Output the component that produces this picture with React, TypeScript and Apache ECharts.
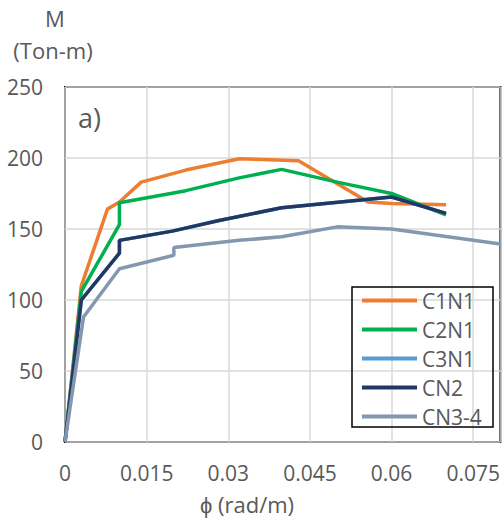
import React, { useEffect, useRef } from "react";
import * as echarts from "echarts";

// Moment–curvature curves
const C1N1: [number, number][] = [
  [0, 0], [0.003, 110], [0.0078, 164], [0.01, 169], [0.014, 183], [0.0222, 191.5],
  [0.032, 199.5], [0.0429, 198], [0.0557, 169], [0.06, 168], [0.07, 167],
];
const C2N1: [number, number][] = [
  [0, 0], [0.003, 106], [0.01, 153], [0.01, 168.5], [0.0222, 177], [0.032, 186],
  [0.0398, 192], [0.05, 183], [0.06, 175], [0.07, 160],
];
const C3N1: [number, number][] = [
  [0, 0], [0.003, 100], [0.01, 133], [0.01, 142], [0.0197, 148.5], [0.0283, 156],
  [0.0398, 165], [0.06, 172.5], [0.07, 161],
];
const CN2: [number, number][] = [
  [0, 0], [0.003, 100], [0.01, 133], [0.01, 142], [0.0197, 148.5], [0.0283, 156],
  [0.0398, 165], [0.06, 172.5], [0.07, 161],
];
const CN3_4: [number, number][] = [
  [0, 0], [0.0034, 88], [0.01, 122], [0.02, 131.5], [0.02, 137], [0.032, 142],
  [0.0398, 144.5], [0.05, 151.5], [0.06, 150], [0.08, 139.5],
];

const seriesNames = ["C1N1", "C2N1", "C3N1", "CN2", "CN3-4"];
const seriesData = [C1N1, C2N1, C3N1, CN2, CN3_4];
const seriesColors = ["#ED7D31", "#00B050", "#5B9BD5", "#203864", "#8497B0"];

const FONT = "'Open Sans', sans-serif";
const TEXT = "#595959";

export default function App() {
  const ref = useRef<HTMLDivElement>(null);

  useEffect(() => {
    if (!ref.current) return;
    const chart = echarts.init(ref.current, undefined, { renderer: "svg" });
    chart.setOption({
      animation: false,
      backgroundColor: "#fff",
      textStyle: { fontFamily: FONT },
      grid: {
        left: 65,
        top: 87,
        right: 2,
        bottom: 79,
        show: true,
        borderColor: "#000",
        borderWidth: 2,
      },
      xAxis: {
        type: "value",
        min: 0,
        max: 0.08,
        interval: 0.015,
        axisLine: { show: false },
        axisTick: { show: false },
        splitLine: { lineStyle: { color: "#D9D9D9", width: 1.5 } },
        axisLabel: {
          showMaxLabel: false,
          margin: 20,
          color: TEXT,
          fontSize: 21,
          fontFamily: FONT,
          formatter: (v: number) => String(Number(v.toFixed(3))),
        },
      },
      yAxis: {
        type: "value",
        min: 0,
        max: 250,
        interval: 50,
        axisLine: { show: false },
        axisTick: { show: false },
        splitLine: { lineStyle: { color: "#D9D9D9", width: 1.5 } },
        axisLabel: { margin: 22, color: TEXT, fontSize: 21, fontFamily: FONT },
      },
      legend: {
        orient: "vertical",
        left: 352,
        top: 290,
        padding: [0, 10, 0, 10],
        icon: "rect",
        itemWidth: 55,
        itemHeight: 4,
        itemGap: 8,
        textStyle: { color: TEXT, fontSize: 21, lineHeight: 20, fontFamily: FONT },
        data: seriesNames,
      },
      graphic: [
        {
          type: "rect",
          shape: { x: 352, y: 287, width: 141, height: 140 },
          style: { fill: "none", stroke: "#000", lineWidth: 1.5 },
          silent: true,
          z: 10,
        },
        {
          type: "text",
          x: 55,
          y: 18,
          style: { text: "M", fill: TEXT, fontSize: 22, fontFamily: FONT, align: "center", verticalAlign: "middle" },
        },
        {
          type: "text",
          x: 53,
          y: 50,
          style: { text: "(Ton-m)", fill: TEXT, fontSize: 22, fontFamily: FONT, align: "center", verticalAlign: "middle" },
        },
        {
          type: "text",
          x: 247,
          y: 504,
          style: { text: "ϕ (rad/m)", fill: TEXT, fontSize: 22, fontFamily: FONT, align: "center", verticalAlign: "middle" },
        },
        {
          type: "text",
          x: 78,
          y: 117,
          style: { text: "a)", fill: TEXT, fontSize: 27, fontFamily: FONT, align: "left", verticalAlign: "middle" },
        },
      ],
      series: seriesNames.map((name, i) => ({
        name,
        type: "line",
        data: seriesData[i],
        showSymbol: false,
        symbol: "none",
        color: seriesColors[i],
        lineStyle: { color: seriesColors[i], width: 3.5 },
      })),
    });
    return () => chart.dispose();
  }, []);

  return <div ref={ref} style={{ width: 503, height: 521, position: "absolute", left: 0, top: 0 }} />;
}
